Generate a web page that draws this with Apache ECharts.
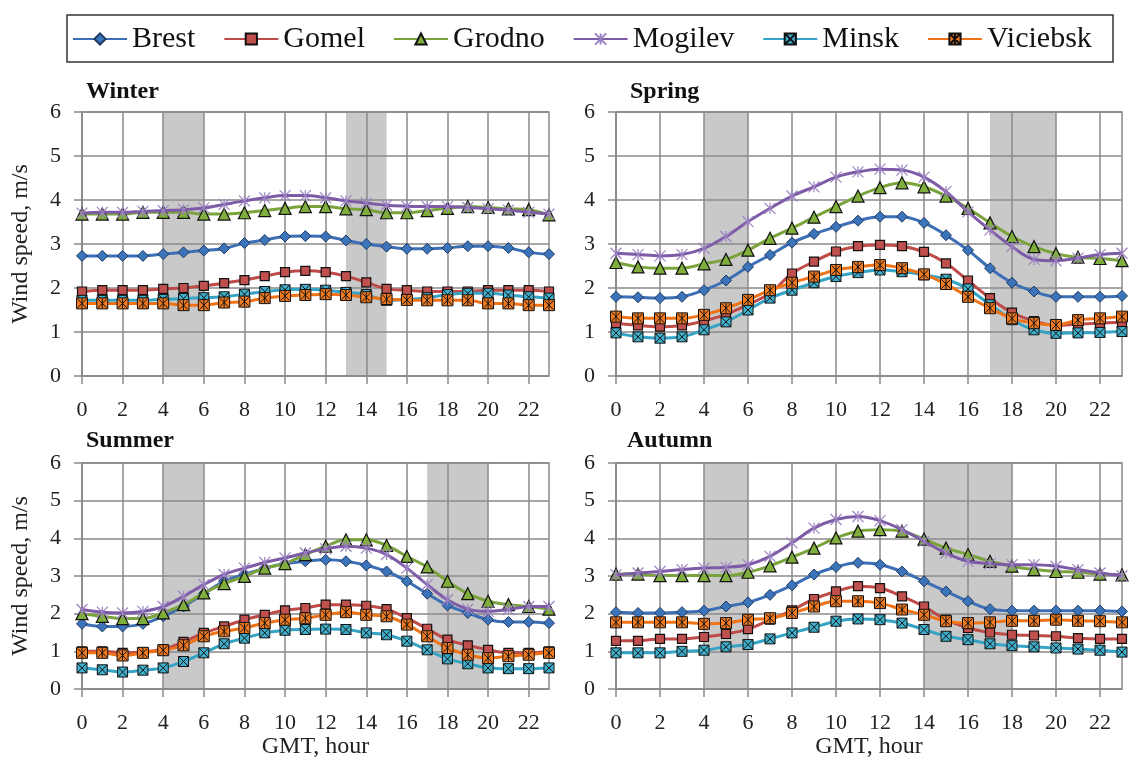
<!DOCTYPE html>
<html><head><meta charset="utf-8">
<script src="https://cdn.jsdelivr.net/npm/echarts@6/dist/echarts.min.js"></script>
<style>html,body{margin:0;padding:0;background:#fff}#c{width:1129px;height:769px}</style>
</head><body><div id="c"></div>
<script>
const hours = ['0','1','2','3','4','5','6','7','8','9','10','11','12','13','14','15','16','17','18','19','20','21','22','23'];
const cities = ['Brest','Gomel','Grodno','Mogilev','Minsk','Viciebsk'];
const seasons = ['Winter','Spring','Summer','Autumn'];
const yTicks = [0,1,2,3,4,5,6];

const winterBrest    = [2.73,2.73,2.73,2.73,2.77,2.81,2.85,2.90,3.02,3.09,3.17,3.18,3.17,3.08,3.00,2.94,2.89,2.89,2.91,2.95,2.95,2.91,2.81,2.77];
const winterGomel    = [1.92,1.95,1.95,1.95,1.98,2.00,2.05,2.11,2.18,2.27,2.36,2.39,2.36,2.27,2.13,1.98,1.95,1.92,1.92,1.92,1.95,1.95,1.95,1.92];
const winterGrodno   = [3.68,3.68,3.68,3.72,3.72,3.72,3.68,3.68,3.71,3.76,3.81,3.85,3.85,3.80,3.78,3.71,3.71,3.76,3.81,3.85,3.83,3.80,3.78,3.66];
const winterMogilev  = [3.70,3.72,3.72,3.74,3.76,3.78,3.82,3.90,3.98,4.05,4.10,4.10,4.05,3.98,3.93,3.88,3.86,3.85,3.85,3.83,3.80,3.77,3.72,3.68];
const winterMinsk    = [1.72,1.72,1.72,1.72,1.74,1.76,1.78,1.80,1.86,1.92,1.96,1.97,1.95,1.90,1.85,1.72,1.74,1.78,1.85,1.88,1.88,1.84,1.80,1.77];
const winterViciebsk = [1.65,1.65,1.65,1.65,1.65,1.61,1.61,1.67,1.69,1.77,1.82,1.84,1.86,1.84,1.79,1.75,1.73,1.72,1.72,1.72,1.65,1.65,1.61,1.61];

const springBrest    = [1.80,1.79,1.77,1.80,1.95,2.17,2.48,2.75,3.03,3.23,3.39,3.53,3.62,3.62,3.48,3.20,2.86,2.45,2.12,1.92,1.80,1.80,1.80,1.82];
const springGomel    = [1.20,1.15,1.12,1.15,1.25,1.40,1.62,1.88,2.33,2.60,2.83,2.95,2.98,2.95,2.82,2.56,2.17,1.77,1.44,1.25,1.15,1.18,1.20,1.22];
const springGrodno   = [2.58,2.48,2.45,2.45,2.55,2.65,2.86,3.13,3.36,3.61,3.85,4.09,4.28,4.39,4.30,4.09,3.81,3.48,3.17,2.94,2.78,2.70,2.67,2.62];
const springMogilev  = [2.79,2.76,2.73,2.76,2.90,3.17,3.51,3.81,4.09,4.30,4.52,4.64,4.70,4.68,4.52,4.19,3.73,3.32,2.94,2.65,2.62,2.68,2.76,2.79];
const springMinsk    = [0.98,0.89,0.86,0.89,1.05,1.23,1.50,1.77,1.95,2.12,2.26,2.35,2.41,2.37,2.30,2.20,1.98,1.62,1.28,1.05,0.97,0.98,0.99,1.01];
const springViciebsk = [1.35,1.31,1.31,1.31,1.39,1.54,1.73,1.95,2.12,2.26,2.41,2.48,2.52,2.45,2.31,2.09,1.80,1.54,1.31,1.20,1.16,1.27,1.31,1.35];

const summerBrest    = [1.73,1.66,1.66,1.73,1.93,2.19,2.53,2.86,3.04,3.21,3.33,3.39,3.43,3.39,3.28,3.12,2.86,2.53,2.22,2.02,1.84,1.78,1.78,1.75];
const summerGomel    = [1.00,1.00,0.96,0.98,1.06,1.25,1.49,1.66,1.84,1.97,2.09,2.15,2.24,2.24,2.21,2.12,1.88,1.60,1.31,1.16,1.04,0.96,0.96,1.00];
const summerGrodno   = [2.00,1.93,1.87,1.87,2.02,2.24,2.55,2.80,2.99,3.21,3.33,3.57,3.79,3.96,3.96,3.81,3.52,3.24,2.86,2.53,2.33,2.24,2.19,2.12];
const summerMogilev  = [2.11,2.04,2.02,2.06,2.19,2.46,2.77,3.04,3.21,3.36,3.48,3.61,3.72,3.79,3.74,3.57,3.21,2.77,2.37,2.12,2.06,2.11,2.19,2.19];
const summerMinsk    = [0.56,0.51,0.45,0.50,0.56,0.73,0.96,1.20,1.35,1.49,1.56,1.58,1.59,1.58,1.49,1.44,1.27,1.04,0.80,0.67,0.56,0.54,0.54,0.56];
const summerViciebsk = [0.96,0.96,0.89,0.96,1.03,1.16,1.40,1.53,1.62,1.75,1.84,1.88,1.97,2.04,1.97,1.93,1.71,1.40,1.09,0.91,0.82,0.87,0.91,0.96];

const autumnBrest    = [2.04,2.02,2.02,2.04,2.08,2.19,2.30,2.50,2.75,3.04,3.24,3.35,3.30,3.12,2.86,2.59,2.33,2.12,2.08,2.08,2.08,2.08,2.08,2.06];
const autumnGomel    = [1.28,1.28,1.33,1.33,1.38,1.46,1.59,1.84,2.09,2.39,2.59,2.73,2.68,2.46,2.19,1.84,1.62,1.50,1.44,1.42,1.40,1.35,1.33,1.33];
const autumnGrodno   = [3.05,3.05,3.01,3.01,3.01,3.01,3.10,3.27,3.50,3.74,4.01,4.19,4.23,4.19,3.98,3.74,3.57,3.39,3.26,3.17,3.12,3.10,3.05,3.03];
const autumnMogilev  = [3.03,3.08,3.12,3.17,3.21,3.23,3.30,3.52,3.88,4.27,4.50,4.58,4.47,4.23,3.92,3.61,3.39,3.33,3.30,3.30,3.26,3.17,3.08,3.01];
const autumnMinsk    = [0.96,0.96,0.96,1.00,1.03,1.12,1.18,1.33,1.49,1.64,1.80,1.86,1.84,1.75,1.58,1.40,1.31,1.20,1.15,1.12,1.09,1.06,1.03,0.98];
const autumnViciebsk = [1.77,1.77,1.77,1.77,1.73,1.75,1.84,1.88,2.02,2.19,2.33,2.33,2.28,2.11,1.97,1.80,1.75,1.77,1.81,1.81,1.84,1.81,1.80,1.77];

const winterBands = [[4,6],[13,15]];
const springBands = [[4,6],[17,20]];
const summerBands = [[4,6],[17,20]];
const autumnBands = [[4,6],[14,18]];

const seasonData = [
  [winterBrest, winterGomel, winterGrodno, winterMogilev, winterMinsk, winterViciebsk],
  [springBrest, springGomel, springGrodno, springMogilev, springMinsk, springViciebsk],
  [summerBrest, summerGomel, summerGrodno, summerMogilev, summerMinsk, summerViciebsk],
  [autumnBrest, autumnGomel, autumnGrodno, autumnMogilev, autumnMinsk, autumnViciebsk]
];
const seasonBands = [winterBands, springBands, summerBands, autumnBands];

const FONT = "'Liberation Serif', 'Times New Roman', serif";
const GRID_C = '#8a8a8a';
const grids = [
  {left: 82, top: 112, width: 467, height: 264},
  {left: 616, top: 112, width: 506, height: 264},
  {left: 82, top: 463, width: 467, height: 226},
  {left: 616, top: 463, width: 506, height: 226}
];
const titlePos = [[86, 80], [630, 80], [86, 429], [627, 429]];

const styles = [
  {line: '#3C6FB6', symbol: 'diamond', size: 11, fill: '#3B74BA', border: '#1f3a5f', bw: 1},
  {line: '#BE4B48', symbol: 'rect', size: 9, fill: '#C0504D', border: '#111', bw: 1.2},
  {line: '#7BA33C', symbol: 'triangle', size: 12, fill: '#7FAE3C', border: '#111', bw: 1.2},
  {line: '#7D5BA6', symbol: 'path://M0 0L10 10M10 0L0 10M5 0L5 10', size: 11, fill: '#8064A2', border: '#9C82C2', bw: 1.2},
  {line: '#35A3C4', symbol: 'path://M0 0H10V10H0ZM0 0L10 10M10 0L0 10', size: 10, fill: '#3FAFCC', border: '#111', bw: 1},
  {line: '#F07318', symbol: 'path://M0 0H10V10H0ZM1 1L9 9M9 1L1 9M5 0.5L5 9.5', size: 11, fill: '#F07A20', border: '#111', bw: 1}
];

function renderBand(params, api) {
  const p0 = api.coord([api.value(0), 6]);
  const p1 = api.coord([api.value(1), 0]);
  return {
    type: 'rect',
    shape: {x: p0[0], y: p0[1], width: p1[0] - p0[0], height: p1[1] - p0[1]},
    style: {fill: '#c9c9c9'}
  };
}

const xAxes = [], yAxes = [], series = [], titles = [];
grids.forEach((g, i) => {
  const bottom = i >= 2;
  const left = i % 2 === 0;
  xAxes.push({
    type: 'category', gridIndex: i, data: hours, boundaryGap: false, zlevel: 1, z: 3,
    axisLine: {lineStyle: {color: GRID_C, width: 1.5}},
    axisTick: {interval: 1, length: 8, lineStyle: {color: GRID_C, width: 1.5}},
    axisLabel: {interval: 1, fontFamily: FONT, fontSize: 22, color: '#222', margin: 23},
    splitLine: {show: true, interval: 1, lineStyle: {color: GRID_C, width: 1.5}},
    name: bottom ? 'GMT, hour' : '', nameLocation: 'middle', nameGap: 45,
    nameTextStyle: {fontFamily: FONT, fontSize: 24, color: '#222'}
  });
  yAxes.push({
    type: 'value', gridIndex: i, min: 0, max: 6, interval: 1, zlevel: 1, z: 3,
    axisLine: {show: true, lineStyle: {color: GRID_C, width: 1.5}},
    axisTick: {show: true, length: 8, lineStyle: {color: GRID_C, width: 1.5}},
    axisLabel: {fontFamily: FONT, fontSize: 22, color: '#222', margin: 21,
      formatter: v => yTicks.includes(v) ? String(v) : ''},
    splitLine: {show: true, lineStyle: {color: GRID_C, width: 1.5}},
    name: left ? 'Wind speed, m/s' : '', nameLocation: 'middle', nameGap: 49,
    nameTextStyle: {fontFamily: FONT, fontSize: 24, color: '#222'}
  });
  titles.push({text: seasons[i], left: titlePos[i][0], top: titlePos[i][1], padding: 0,
    textStyle: {fontFamily: FONT, fontSize: 24, fontWeight: 'bold', color: '#111'}});
  series.push({
    type: 'custom', name: 'band' + i, xAxisIndex: i, yAxisIndex: i, zlevel: 0, z: 1, silent: true,
    renderItem: renderBand, data: seasonBands[i], encode: {x: [0, 1]}
  });
  cities.forEach((c, k) => {
    const s = styles[k];
    series.push({
      type: 'line', name: c, xAxisIndex: i, yAxisIndex: i, zlevel: 2, z: 5 + k,
      data: seasonData[i][k], smooth: 0.35,
      symbol: s.symbol, symbolSize: s.size, showSymbol: true,
      lineStyle: {color: s.line, width: 3},
      itemStyle: {color: s.fill, borderColor: s.border, borderWidth: s.bw}
    });
  });
});

const chart = echarts.init(document.getElementById('c'), null, {renderer: 'canvas'});
chart.setOption({
  animation: false,
  backgroundColor: '#fff',
  title: titles,
  grid: grids.map(g => Object.assign({show: true, borderColor: GRID_C, borderWidth: 1.5, backgroundColor: 'transparent', zlevel: 1, z: 4}, g)),
  xAxis: xAxes,
  yAxis: yAxes,
  legend: {
    data: cities, left: 72, top: 24, padding: 0, itemWidth: 54, itemHeight: 14, itemGap: 28,
    textStyle: {fontFamily: FONT, fontSize: 30, color: '#111'}
  },
  graphic: [{type: 'rect', shape: {x: 67, y: 15, width: 1046, height: 47}, style: {fill: 'none', stroke: '#333', lineWidth: 1.5}, silent: true}],
  series: series
});
</script>
</body></html>
